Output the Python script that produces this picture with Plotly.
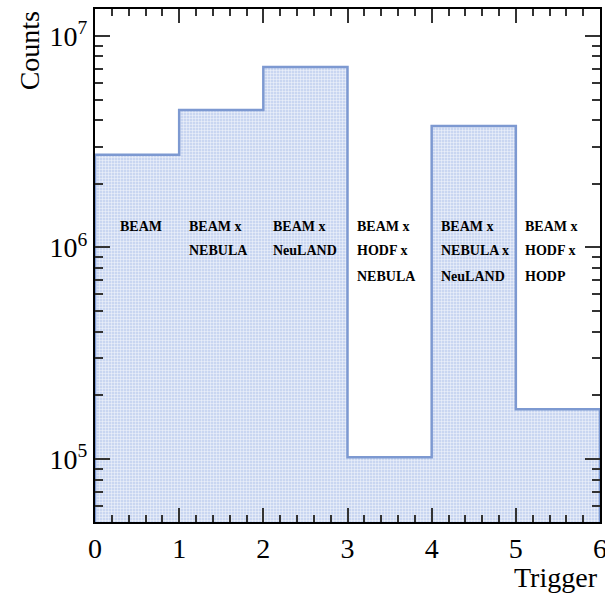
import plotly.graph_objects as go
import numpy as np

# Data
bin_edges = [0, 1, 2, 3, 4, 5, 6]
counts = [2.74e6, 4.47e6, 7.13e6, 1.02e5, 3.75e6, 1.72e5]
trigger_labels = [
    ["BEAM"],
    ["BEAM x", "NEBULA"],
    ["BEAM x", "NeuLAND"],
    ["BEAM x", "HODF x", "NEBULA"],
    ["BEAM x", "NEBULA x", "NeuLAND"],
    ["BEAM x", "HODF x", "HODP"],
]
label_x = [0.27, 1.09, 2.09, 3.09, 4.09, 5.09]
label_lines_y = [1.26e6, 9.63e5, 7.33e5]

y_min, y_max = 5.04e4, 1.34e7
line_color = "#7d99d1"
serif = "Liberation Serif, Times New Roman, serif"

centers = [(bin_edges[i] + bin_edges[i + 1]) / 2 for i in range(len(counts))]
widths = [bin_edges[i + 1] - bin_edges[i] for i in range(len(counts))]

fig = go.Figure()
fig.add_trace(go.Bar(
    x=centers, y=counts, width=widths,
    marker=dict(
        color="rgba(255,255,255,0)",
        line=dict(width=0),
        pattern=dict(shape="+", fgcolor="#ffffff", fgopacity=0.8,
                     bgcolor="#c9d6f1", size=3, solidity=0.3),
    ),
    showlegend=False, hoverinfo="skip",
))

# step outline
sx = [bin_edges[0]]
sy = [y_min]
for i, c in enumerate(counts):
    sx += [bin_edges[i], bin_edges[i + 1]]
    sy += [c, c]
sx.append(bin_edges[-1])
sy.append(y_min)
fig.add_trace(go.Scatter(x=sx, y=sy, mode="lines",
                         line=dict(color=line_color, width=2.5),
                         showlegend=False, hoverinfo="skip"))

annotations = []
for lx, lines in zip(label_x, trigger_labels):
    for j, t in enumerate(lines):
        annotations.append(dict(
            x=lx, y=np.log10(label_lines_y[j]), xref="x", yref="y",
            text="<b>%s</b>" % t, showarrow=False, xanchor="left", yanchor="middle",
            font=dict(family=serif, size=14, color="black"),
        ))
annotations.append(dict(x=1.0, y=-0.108, xref="paper", yref="paper", text="Trigger",
                        showarrow=False, xanchor="right", yanchor="middle",
                        font=dict(family=serif, size=28, color="black")))
annotations.append(dict(x=-0.129, y=1.0, xref="paper", yref="paper", text="Counts",
                        showarrow=False, xanchor="center", yanchor="top", textangle=-90,
                        font=dict(family=serif, size=28, color="black")))

yrange = [np.log10(y_min), np.log10(y_max)]
minor_vals = [m * 10 ** e for e in [4, 5, 6, 7] for m in range(2, 10)]

fig.update_layout(
    width=605, height=594,
    margin=dict(l=95, r=5, t=9, b=72),
    paper_bgcolor="white", plot_bgcolor="white",
    bargap=0,
    annotations=annotations,
    font=dict(family=serif, color="black"),
    xaxis=dict(
        range=[0, 6], dtick=1, tick0=0, showgrid=False, zeroline=False, automargin=False,
        ticklabeloverflow="allow", mirror="allticks",
        showline=True, linecolor="black", linewidth=2,
        ticks="inside", ticklen=14, tickwidth=1.5, tickcolor="#333333",
        tickfont=dict(family=serif, size=28, color="black"),
        minor=dict(dtick=0.2, ticks="inside", ticklen=7, tickwidth=1.5, tickcolor="#333333"),
    ),
    yaxis=dict(
        type="log", range=yrange, automargin=False, mirror="allticks",
        tickvals=[1e5, 1e6, 1e7], ticktext=["10<sup>5</sup>", "10<sup>6</sup>", "10<sup>7</sup>"],
        showgrid=False, zeroline=False,
        showline=True, linecolor="black", linewidth=2,
        ticks="inside", ticklen=15, tickwidth=1.5, tickcolor="#333333",
        tickfont=dict(family=serif, size=28, color="black"),
        minor=dict(tickvals=minor_vals, ticks="inside", ticklen=8, tickwidth=1.5, tickcolor="#333333"),
    ),
)

fig.write_html("out.html")
